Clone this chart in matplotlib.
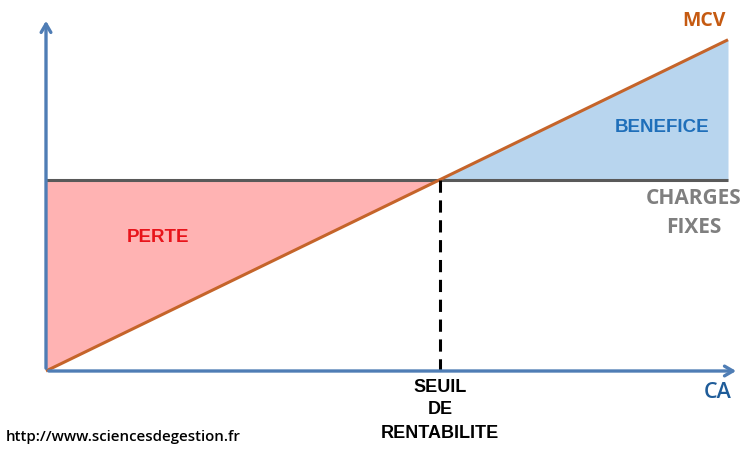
import matplotlib
matplotlib.use("Agg")
import matplotlib.pyplot as plt

# seuil de rentabilite : donnees (unites arbitraires)
ca = [0, 100]
charges_fixes = [30, 30]
mcv = [0, 52]
seuil = 57.7

# px -> donnees : origine a (46, 371), 6.82 px par unite en x, 6.37 en y
x0, y0 = 46, 371
sx, sy = 6.82, 6.37
W, H = 747, 451

fig = plt.figure(figsize=(W / 100, H / 100), dpi=100)
ax = fig.add_axes([0, 0, 1, 1])
ax.set_xlim(-x0 / sx, (W - x0) / sx)
ax.set_ylim(-(H - y0) / sy, y0 / sy)
ax.axis("off")

# zones
ax.fill_between([0, seuil], [0, charges_fixes[0]], charges_fixes[0], color="#ffb3b3", lw=0)
ax.fill_between([seuil, ca[1]], charges_fixes[1], [charges_fixes[1], mcv[1]], color="#b8d5ee", lw=0)

# axes fleches
axis_col = "#4f7db5"
ax.annotate("", xy=(101.6, 0), xytext=(0, 0),
            arrowprops=dict(arrowstyle="->,head_length=0.6,head_width=0.35", color=axis_col, lw=2.4))
ax.annotate("", xy=(0, (y0 - 18) / sy), xytext=(0, 0),
            arrowprops=dict(arrowstyle="->,head_length=0.6,head_width=0.35", color=axis_col, lw=2.4))

# droites
ax.plot(ca, charges_fixes, color="#595959", lw=2.2, solid_capstyle="butt")
ax.plot(ca, mcv, color="#c5642a", lw=2.2, solid_capstyle="butt")
ax.plot([seuil, seuil], [0, charges_fixes[0]], color="black", lw=2.2, ls=(0, (4, 2.5)))

bold_arial = dict(family="Liberation Sans", weight="bold", ha="center", va="center")
calibri = dict(family="Open Sans", weight="bold", ha="center", va="center")

def px(x, y):
    return (x - x0) / sx, (y0 - y) / sy

ax.text(*px(704, 21), "MCV", color="#c55a11", fontsize=14, **calibri)
ax.text(*px(662, 128), "BENEFICE", color="#1f6fba", fontsize=13.5, **bold_arial)
ax.text(*px(694, 199), "CHARGES", color="#7f7f7f", fontsize=15, **calibri)
ax.text(*px(694, 228), "FIXES", color="#7f7f7f", fontsize=15, **calibri)
ax.text(*px(158, 237), "PERTE", color="#e8141b", fontsize=13.5, **bold_arial)
ax.text(*px(440, 388), "SEUIL", color="black", fontsize=13, **bold_arial)
ax.text(*px(440, 410), "DE", color="black", fontsize=13, **bold_arial)
ax.text(*px(440, 433), "RENTABILITE", color="black", fontsize=13, **bold_arial)
ax.text(*px(718, 392), "CA", color="#1f5c99", fontsize=15.5, family="Open Sans",
        weight="semibold", ha="center", va="center")
ax.text(*px(6, 437), "http://www.sciencesdegestion.fr", color="black", fontsize=10.8,
        family="Open Sans", weight="semibold", ha="left", va="center")

fig.savefig("out.png", dpi=100)
